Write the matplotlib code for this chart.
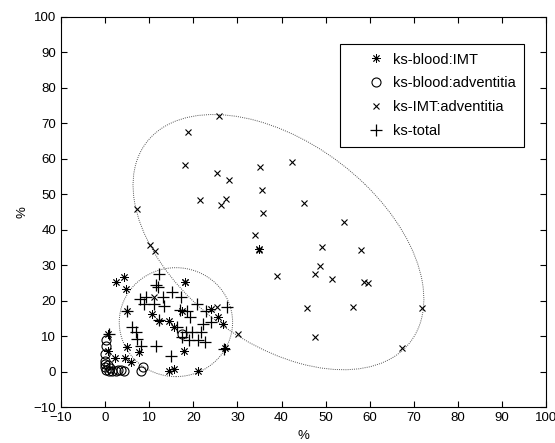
import numpy as np
import matplotlib
matplotlib.use('Agg')
import matplotlib.pyplot as plt
from matplotlib.patches import Ellipse

plt.rcParams['font.family'] = ['Liberation Sans', 'DejaVu Sans']

# ks-blood:IMT (asterisks)
blood_imt_x = [35.0, 18.0, 2.4, 4.3, 4.7, 4.9, 10.7, 12.2, 14.5, 15.6, 24.0, 25.5, 26.8,
               27.2, 17.9, 7.7, 4.9, 14.5, 15.6, 21.1, 0.6, 2.3, 4.4, 0.6, 17.4, 5.8]
blood_imt_y = [34.5, 25.2, 25.2, 26.6, 23.4, 17.0, 16.3, 14.4, 14.4, 12.5, 17.7, 15.3, 13.5,
               6.7, 5.9, 5.5, 6.9, 0.3, 0.8, 0.3, 10.6, 3.9, 3.9, 5.7, 17.2, 2.6]

# ks-blood:adventitia (circles)
blood_adv_x = [0.2, 0.2, 0.0, 0.0, 0.0, 0.0, 0.3, 0.9, 1.6, 2.4, 3.0, 3.6, 4.3, 0.6, 1.2,
               8.5, 8.1, 17.5]
blood_adv_y = [8.8, 7.3, 5.0, 3.1, 2.2, 1.2, 0.4, 0.3, 0.3, 0.3, 0.4, 0.5, 0.3, 1.8, 1.0,
               1.4, 0.3, 10.6]

# ks-IMT:adventitia (x)
imt_adv_x = [25.9, 18.8, 18.2, 25.3, 28.0, 21.5, 27.4, 26.3, 35.1, 42.4, 35.5, 35.7, 45.1,
             33.9, 54.1, 58.1, 49.1, 48.7, 47.7, 38.9, 51.4, 58.6, 59.5, 45.8, 56.2, 71.8,
             47.6, 67.3, 7.3, 10.1, 11.2, 30.2, 18.0, 11.0, 25.3, 35.0]
imt_adv_y = [72.0, 67.4, 58.2, 56.1, 53.9, 48.4, 48.6, 47.1, 57.7, 59.2, 51.1, 44.7, 47.6,
             38.6, 42.2, 34.3, 35.2, 29.9, 27.6, 26.9, 26.1, 25.4, 25.0, 18.0, 18.3, 17.8,
             9.9, 6.8, 45.9, 35.6, 34.1, 10.6, 25.2, 21.0, 18.2, 34.3]

# ks-total (+)
total_x = [12.2, 11.9, 11.5, 7.9, 9.2, 8.8, 11.1, 13.2, 15.1, 13.4, 17.3, 17.0, 18.5, 19.3,
           20.8, 22.8, 27.6, 4.9, 6.2, 7.0, 7.2, 8.1, 11.5, 14.9, 18.3, 19.8, 21.7, 19.0,
           21.0, 22.7, 24.0, 22.1, 16.2, 12.3, 17.5, 0.9, 26.9]
total_y = [27.6, 23.8, 24.3, 20.5, 21.0, 19.1, 19.1, 21.0, 22.4, 18.6, 21.0, 17.4, 17.2, 15.3,
           19.1, 17.2, 18.2, 17.0, 12.5, 11.1, 9.2, 7.3, 7.1, 4.5, 11.1, 11.1, 11.1, 8.8,
           8.8, 8.3, 13.9, 13.5, 12.5, 14.6, 9.7, 10.6, 6.5]

# ellipses (center x, center y, width, height, angle)
big_ell = (39.3, 36.5, 83.2, 51.0, 129.5)
small_ell = (16.05, 13.95, 25.7, 30.7, 0.0)

fig = plt.figure(figsize=(5.55, 4.43), dpi=100)
ax = fig.add_axes([0.110, 0.081, 0.874, 0.881])

ax.plot(blood_imt_x, blood_imt_y, linestyle='none', marker=(8, 2, 0), markersize=6,
        color='black', markeredgewidth=0.6, label='ks-blood:IMT')
ax.plot(blood_adv_x, blood_adv_y, linestyle='none', marker='o', markersize=6.5,
        markerfacecolor='none', markeredgecolor='black', markeredgewidth=0.8,
        label='ks-blood:adventitia')
ax.plot(imt_adv_x, imt_adv_y, linestyle='none', marker='x', markersize=4.5,
        color='black', markeredgewidth=0.8, label='ks-IMT:adventitia')
ax.plot(total_x, total_y, linestyle='none', marker='+', markersize=8,
        color='black', markeredgewidth=0.9, label='ks-total')

for cx, cy, w, h, ang in [big_ell, small_ell]:
    ax.add_patch(Ellipse((cx, cy), w, h, angle=ang, fill=False, edgecolor='#555555',
                         linestyle=(0, (1, 1.2)), linewidth=0.7))

ax.set_xlim(-10, 100)
ax.set_ylim(-10, 100)
ax.set_xticks(np.arange(-10, 101, 10))
ax.set_yticks(np.arange(-10, 101, 10))
ax.tick_params(direction='in', top=True, right=True, length=4, labelsize=9.5, width=0.8)
for s in ax.spines.values():
    s.set_linewidth(0.8)
ax.set_xlabel('%', fontsize=9.5, labelpad=4)
ax.set_ylabel('%', fontsize=9.5, labelpad=4)

leg = ax.legend(loc='upper right', bbox_to_anchor=(0.955, 0.931), fontsize=10.5,
                fancybox=False, framealpha=1, edgecolor='black', labelspacing=0.68,
                handlelength=3.8, handletextpad=-0.75, borderpad=0.6, borderaxespad=0)
leg.get_frame().set_linewidth(0.8)

fig.savefig('out.png', dpi=100)
